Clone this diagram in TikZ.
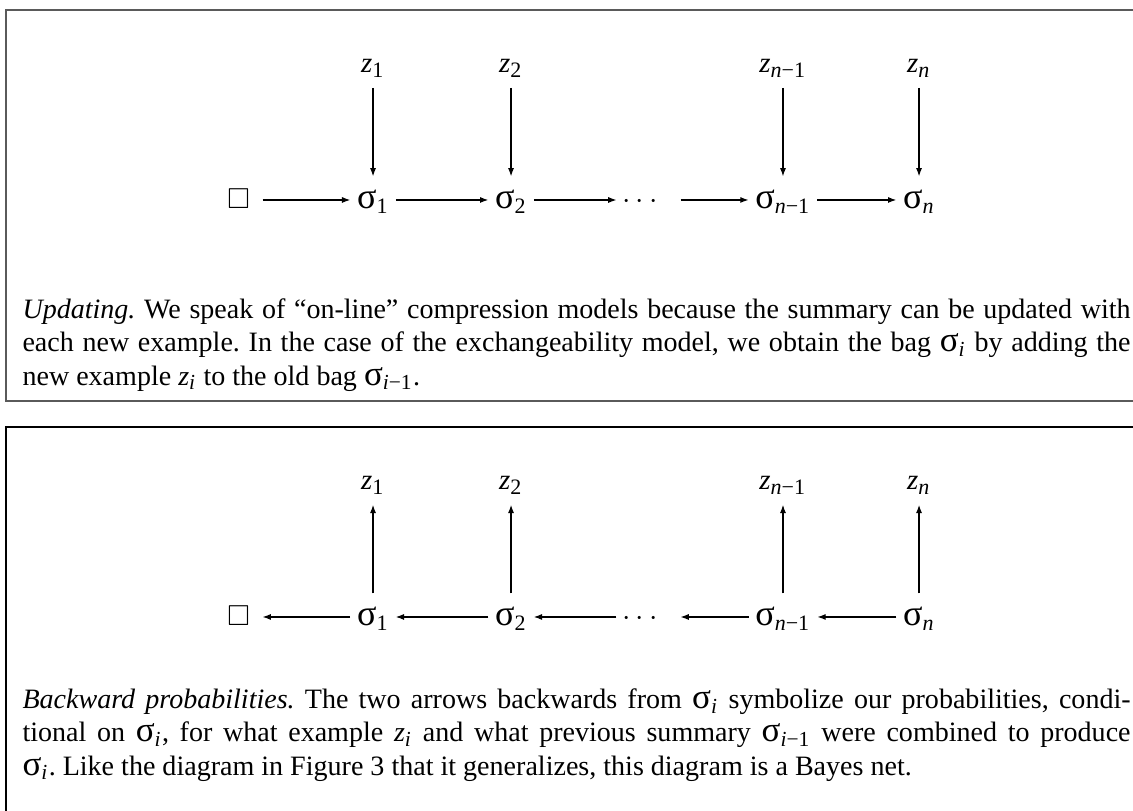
\documentclass[tikz,border=0pt]{standalone}
\usepackage{amsmath,amssymb}
\usepackage{graphicx}
\usepackage{fontspec}
\setmainfont{Liberation Serif}
\usetikzlibrary{arrows.meta}
\definecolor{framegray}{RGB}{90,90,90}
\DeclareMathSizes{10.2}{10.2}{7.8}{6}
\DeclareMathSizes{10.5}{10.5}{8}{6}
\newcommand{\sgm}{\scalebox{1.25}{σ}}
\newcommand{\sg}[1]{$\text{\sgm}_{\text{#1}}$}
\newcommand{\zv}[1]{$\text{\itshape z}_{\text{#1}}$}
\newcommand{\nm}{\textit{n}−1}
\newcommand{\im}{\textit{i}−1}
\newlength{\capw}
\setlength{\capw}{403pt}
\frenchspacing

\begin{document}
\begin{tikzpicture}[
    lbl/.style={font=\fontsize{10.5}{12.5}\selectfont, inner xsep=2.3pt, inner ysep=1pt,
                text height=10.6pt, text depth=4.2pt},
    bag/.style={lbl, inner xsep=0pt, minimum width=17.1pt},
    dots/.style={lbl, inner xsep=0pt, minimum width=22.9pt},
    arr/.style={-{Latex[length=3pt,width=2.2pt]}, line width=0.4pt},
    captxt/.style={anchor=base west, inner sep=0pt, font=\fontsize{10.2}{12}\selectfont}
]
    \useasboundingbox (0,0) rectangle (14.482,-10.366);

    % Panel 1: updating
    \draw[framegray, line width=0.8pt] (14.482,-0.128) -- (0.077,-0.128) -- (0.077,-5.126) -- (14.482,-5.126);
    \node[bag] (e1) at (3.049,-2.556) {$\square$};
    \node[lbl] (s1) at (4.768,-2.556) {\sg{1}};
    \node[lbl] (s2) at (6.532,-2.556) {\sg{2}};
    \node[dots] (d1) at (8.289,-2.556) {\makebox[22.9pt][l]{\hspace{2pt}$\cdots$}};
    \node[lbl] (sn1) at (10.008,-2.556) {\sg{\nm}};
    \node[lbl] (sn) at (11.747,-2.556) {\sg{\textit{n}}};
    \node[lbl, anchor=base] (z1) at (4.768,-0.933) {\zv{1}};
    \node[lbl, anchor=base] (z2) at (6.532,-0.933) {\zv{2}};
    \node[lbl, anchor=base] (zn1) at (10.008,-0.933) {\zv{\nm}};
    \node[lbl, anchor=base] (zn) at (11.747,-0.933) {\zv{\textit{n}}};
    \draw[arr] (e1) -- (s1);
    \draw[arr] (s1) -- (s2);
    \draw[arr] (s2) -- (d1);
    \draw[arr] (d1) -- (sn1);
    \draw[arr] (sn1) -- (sn);
    \draw[arr] (z1) -- (s1);
    \draw[arr] (z2) -- (s2);
    \draw[arr] (zn1) -- (sn1);
    \draw[arr] (zn) -- (sn);
    \node[captxt] (t1) at (0.281,-4.077) {\makebox[\capw][s]{\textit{Updating.} We speak of ``on-line'' compression models because the summary can be updated with}};
    \node[captxt] (t2) at (0.281,-4.499) {\makebox[\capw][s]{each new example. In the case of the exchangeability model, we obtain the bag \sg{\textit{i}} by adding the}};
    \node[captxt] (t3) at (0.281,-4.921) {new example \zv{\textit{i}} to the old bag \sg{\im}.};

    % Panel 2: backward probabilities
    \draw[black, line width=0.5pt] (14.482,-5.458) -- (0.077,-5.458) -- (0.077,-10.366);
    \node[bag] (e2) at (3.049,-7.886) {$\square$};
    \node[lbl] (b1) at (4.768,-7.886) {\sg{1}};
    \node[lbl] (b2) at (6.532,-7.886) {\sg{2}};
    \node[dots] (d2) at (8.289,-7.886) {\makebox[22.9pt][l]{\hspace{2pt}$\cdots$}};
    \node[lbl] (bn1) at (10.008,-7.886) {\sg{\nm}};
    \node[lbl] (bn) at (11.747,-7.886) {\sg{\textit{n}}};
    \node[lbl, anchor=base] (y1) at (4.768,-6.263) {\zv{1}};
    \node[lbl, anchor=base] (y2) at (6.532,-6.263) {\zv{2}};
    \node[lbl, anchor=base] (yn1) at (10.008,-6.263) {\zv{\nm}};
    \node[lbl, anchor=base] (yn) at (11.747,-6.263) {\zv{\textit{n}}};
    \draw[arr] (b1) -- (e2);
    \draw[arr] (b2) -- (b1);
    \draw[arr] (d2) -- (b2);
    \draw[arr] (bn1) -- (d2);
    \draw[arr] (bn) -- (bn1);
    \draw[arr] (b1) -- (y1);
    \draw[arr] (b2) -- (y2);
    \draw[arr] (bn1) -- (yn1);
    \draw[arr] (bn) -- (yn);
    \node[captxt] (u1) at (0.281,-9.062) {\makebox[\capw][s]{\textit{Backward probabilities.} The two arrows backwards from \sg{\textit{i}} symbolize our probabilities, condi-}};
    \node[captxt] (u2) at (0.281,-9.484) {\makebox[\capw][s]{tional on \sg{\textit{i}}, for what example \zv{\textit{i}} and what previous summary \sg{\im} were combined to produce}};
    \node[captxt] (u3) at (0.281,-9.906) {\sg{\textit{i}}. Like the diagram in Figure 3 that it generalizes, this diagram is a Bayes net.};
\end{tikzpicture}
\end{document}
